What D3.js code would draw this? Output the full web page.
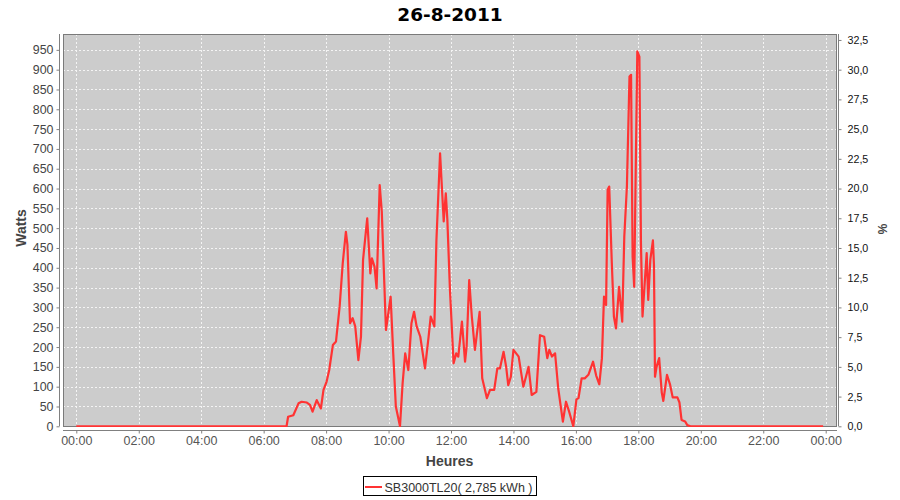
<!DOCTYPE html>
<html><head><meta charset="utf-8">
<script src="https://cdn.jsdelivr.net/npm/d3@7"></script>
<style>body{margin:0;background:#fff;overflow:hidden}</style>
</head><body><svg id="c" width="900" height="500"></svg>
<script>
// ---- data ----
const title = "26-8-2011";
const seriesName = "SB3000TL20( 2,785 kWh )";
const times = ["00:00","06:40","06:44","06:47","06:57","07:07","07:13","07:23","07:29","07:34","07:42","07:50","07:55",
"08:01","08:06","08:13","08:19","08:26","08:32","08:38","08:41","08:46","08:51","08:56",
"09:02","09:07","09:11","09:19","09:25","09:28","09:33","09:37","09:43","09:47","09:55",
"10:00","10:04","10:09","10:14","10:22","10:27","10:32","10:38","10:44","10:49","10:54",
"11:01","11:10","11:17","11:21","11:28","11:32","11:39","11:46","11:50","11:53","11:58",
"12:05","12:10","12:14","12:21","12:27","12:30","12:35","12:40","12:46","12:55",
"13:00","13:09","13:15","13:23","13:29","13:34","13:41","13:46","13:50","13:55",
"14:00","14:10","14:19","14:29","14:35","14:44","14:51","14:59",
"15:05","15:09","15:14","15:20","15:26","15:35","15:41","15:47","15:55",
"16:01","16:05","16:11","16:17","16:24","16:33","16:39","16:45","16:50","16:54","16:58",
"17:01","17:04","17:09","17:13","17:17","17:23","17:29","17:33","17:38","17:43","17:46","17:49","17:52","17:58",
"18:02","18:05","18:08","18:16","18:19","18:23","18:28","18:30","18:32","18:35","18:40","18:45","18:48","18:55",
"19:01","19:06","19:15","19:19","19:23","19:30","19:34","19:40","23:55"];
const watts = [0,0,0,24,28,58,62,60,54,37,66,45,92,
113,142,205,214,302,412,491,458,260,273,252,
167,226,420,525,386,424,403,348,609,542,243,
289,327,184,50,0,108,184,142,260,289,252,
226,146,226,277,252,470,689,517,588,521,344,
159,184,176,264,163,201,369,277,193,289,
121,71,92,92,146,146,188,150,104,125,
193,176,100,150,79,87,230,226,
172,193,176,184,96,12,62,37,0,
68,71,121,121,130,163,128,106,172,327,306,
597,605,412,277,247,352,264,479,605,883,887,428,352,946,
933,462,277,437,319,420,469,407,125,150,172,85,64,130,
105,73,73,60,16,12,3,0,0];
const xTickValues = [0,2,4,6,8,10,12,14,16,18,20,22,24];
const xTickLabels = ["00:00","02:00","04:00","06:00","08:00","10:00","12:00","14:00","16:00","18:00","20:00","22:00","00:00"];
const wattTicks = [0,50,100,150,200,250,300,350,400,450,500,550,600,650,700,750,800,850,900,950];
const pctTicks = [0,2.5,5,7.5,10,12.5,15,17.5,20,22.5,25,27.5,30,32.5];
const pctTickLabels = ["0,0","2,5","5,0","7,5","10,0","12,5","15,0","17,5","20,0","22,5","25,0","27,5","30,0","32,5"];

// ---- layout ----
const svg = d3.select("#c");
const P = {l:63, r:837, t:34, b:426.3};
const hours = times.map(t => { const [h,m] = t.split(":").map(Number); return h + m/60; });
const x = d3.scaleLinear().domain([0,24]).range([76.3, 825.7]);
const y = d3.scaleLinear().domain([0,990]).range([P.b, P.t]);
const y2 = d3.scaleLinear().domain([0,33]).range([P.b, P.t]);

// title
svg.append("text").attr("x",450).attr("y",21).attr("text-anchor","middle")
  .style("font-family","DejaVu Sans").style("font-weight","bold").style("font-size","18.5px")
  .attr("fill","#000").text(title);

// plot background
svg.append("rect").attr("x",P.l).attr("y",P.t).attr("width",P.r-P.l).attr("height",P.b-P.t).attr("fill","#cccccc");

// gridlines
const grid = svg.append("g").attr("stroke","#f4f4f4").attr("stroke-width",1).attr("stroke-dasharray","2,2");
grid.selectAll("line.h").data(wattTicks.filter(d=>d>0)).enter().append("line")
  .attr("x1",P.l).attr("x2",P.r).attr("y1",d=>Math.round(y(d))+0.5).attr("y2",d=>Math.round(y(d))+0.5);
grid.selectAll("line.v").data(xTickValues).enter().append("line")
  .attr("y1",P.t).attr("y2",P.b).attr("x1",d=>Math.round(x(d))+0.5).attr("x2",d=>Math.round(x(d))+0.5);

// plot outline
svg.append("rect").attr("x",P.l+0.5).attr("y",P.t+0.5).attr("width",P.r-P.l-1).attr("height",P.b-P.t-0.3)
  .attr("fill","none").attr("stroke","#7a7a7a").attr("stroke-width",1);

// clip + line
svg.append("clipPath").attr("id","clip").append("rect").attr("x",P.l).attr("y",P.t).attr("width",P.r-P.l).attr("height",P.b-P.t+0.8);
const pts = hours.map((h,i)=>[h, watts[i]]);
svg.append("path").attr("clip-path","url(#clip)").datum(pts)
  .attr("d", d3.line().x(d=>x(d[0])).y(d=>y(d[1])))
  .attr("fill","none").attr("stroke","#ff3333").attr("stroke-width",2.2).attr("stroke-linejoin","round");

// left axis
const ax = d3.axisLeft(y).tickValues(wattTicks).tickSize(3).tickPadding(3).tickFormat(d3.format("d"));
const gL = svg.append("g").attr("transform","translate(59.5,0)").call(ax);
gL.select(".domain").attr("stroke","#808080").attr("d",`M0,${P.t}V${P.b}`);
gL.selectAll(".tick line").attr("stroke","#808080");
gL.selectAll("text").style("font-family","Liberation Sans").style("font-size","12.4px").attr("fill","#444");

// right axis
const ar = d3.axisRight(y2).tickValues(pctTicks).tickSize(3).tickPadding(6).tickFormat((d,i)=>pctTickLabels[i]);
const gR = svg.append("g").attr("transform","translate(838.5,0)").call(ar);
gR.select(".domain").attr("stroke","#808080").attr("d",`M0,${P.t}V${P.b}`);
gR.selectAll(".tick line").attr("stroke","#808080");
gR.selectAll("text").style("font-family","Liberation Sans").style("font-size","10.7px").attr("fill","#111");

// bottom axis
const ab = d3.axisBottom(x).tickValues(xTickValues).tickSize(3).tickPadding(3).tickFormat((d,i)=>xTickLabels[i]);
const gB = svg.append("g").attr("transform","translate(0,430.5)").call(ab);
gB.select(".domain").attr("stroke","#808080").attr("d",`M${P.l},0H${P.r}`);
gB.selectAll(".tick line").attr("stroke","#808080");
gB.selectAll("text").style("font-family","Liberation Sans").style("font-size","12.5px").attr("fill","#555");

// axis labels
svg.append("text").attr("x",449.5).attr("y",466).attr("text-anchor","middle")
  .style("font-family","Liberation Sans").style("font-weight","bold").style("font-size","14px").attr("fill","#444").text("Heures");
svg.append("text").attr("transform","translate(26,228) rotate(-90)").attr("text-anchor","middle")
  .style("font-family","Liberation Sans").style("font-weight","bold").style("font-size","14px").attr("fill","#444").text("Watts");
svg.append("text").attr("transform","translate(878,229) rotate(90)").attr("text-anchor","middle")
  .style("font-family","Liberation Sans").style("font-weight","bold").style("font-size","12px").attr("fill","#444").text("%");

// legend
const lg = svg.append("g");
lg.append("rect").attr("x",363.5).attr("y",476.5).attr("width",173).attr("height",19).attr("fill","#fff").attr("stroke","#000");
lg.append("line").attr("x1",365).attr("x2",382).attr("y1",487).attr("y2",487).attr("stroke","#ff3333").attr("stroke-width",2);
lg.append("text").attr("x",384.5).attr("y",491.5).style("font-family","Liberation Sans").style("font-size","12.5px")
  .attr("fill","#333").text(seriesName);
</script></body></html>
